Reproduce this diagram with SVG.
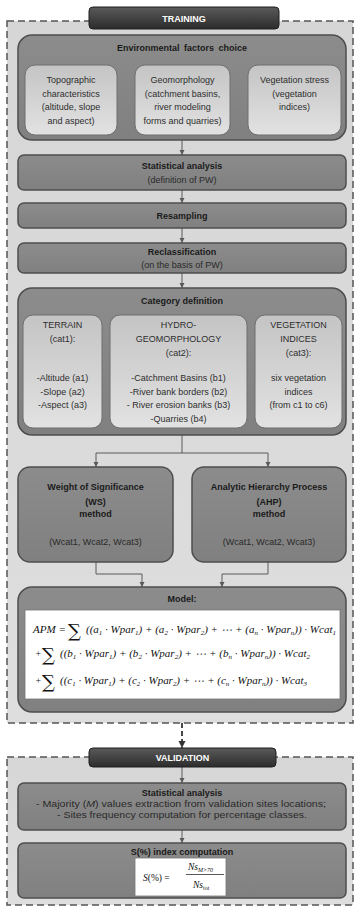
<svg xmlns="http://www.w3.org/2000/svg" width="355" height="907" viewBox="0 0 355 907">
<defs>
<linearGradient id="gHead" x1="0" y1="0" x2="0" y2="1"><stop offset="0" stop-color="#5a5a5a"/><stop offset="1" stop-color="#2c2c2c"/></linearGradient>
<linearGradient id="gMid" x1="0" y1="0" x2="0" y2="1"><stop offset="0" stop-color="#8c8c8c"/><stop offset="1" stop-color="#808080"/></linearGradient>
<linearGradient id="gSub" x1="0" y1="0" x2="0" y2="1"><stop offset="0" stop-color="#c4c4c4"/><stop offset="1" stop-color="#e2e2e2"/></linearGradient>
<linearGradient id="gBg" x1="0" y1="0" x2="0" y2="1"><stop offset="0" stop-color="#d6d6d6"/><stop offset="1" stop-color="#dedede"/></linearGradient>
<marker id="ar" markerWidth="6" markerHeight="6" refX="5" refY="3" orient="auto" markerUnits="userSpaceOnUse"><path d="M0,0.5 L5,3 L0,5.5 Z" fill="#5a5a5a"/></marker>
<marker id="arB" markerWidth="8" markerHeight="8" refX="7" refY="4" orient="auto" markerUnits="userSpaceOnUse"><path d="M0,0.5 L7,4 L0,7.5 Z" fill="#333"/></marker>
</defs>
<style>
.frame{fill:url(#gBg);stroke:#555;stroke-width:1.5;stroke-dasharray:7 4}
.head{fill:url(#gHead);stroke:#1e1e1e;stroke-width:1}
.mid{fill:url(#gMid);stroke:#4e4e4e;stroke-width:1.5}
.sub{fill:url(#gSub);stroke:#6e6e6e;stroke-width:1}
.white{fill:#fff;stroke:#777;stroke-width:0.8}
text{font-family:"Liberation Sans",Arial,sans-serif;text-anchor:middle;fill:#222}
.ht{font-size:9px;font-weight:bold;fill:#fff}
.t{font-size:9px;font-weight:bold;fill:#1a1a1a}
.s{font-size:9px;fill:#2e2e2e}
.ss{font-size:9px;fill:#2a2a2a}
.m{font-family:"Liberation Serif","Times New Roman",serif;font-style:italic;font-size:9.5px;text-anchor:start;fill:#111}
.sum{font-family:"DejaVu Serif","Liberation Serif",serif;font-size:18px;text-anchor:start;fill:#111}
.c{fill:none;stroke:#5a5a5a;stroke-width:1}
</style>

<g id="training-frame"><rect class="frame" x="7" y="21" width="346" height="702"/></g>
<g id="validation-frame"><rect class="frame" x="7" y="757" width="346" height="148"/></g>

<g id="connectors">
<line class="c" x1="182" y1="140" x2="182" y2="155" marker-end="url(#ar)"/>
<line class="c" x1="182" y1="190" x2="182" y2="203" marker-end="url(#ar)"/>
<line class="c" x1="182" y1="228" x2="182" y2="243" marker-end="url(#ar)"/>
<line class="c" x1="182" y1="273" x2="182" y2="288" marker-end="url(#ar)"/>
<path class="c" d="M182,435 V453"/>
<path class="c" d="M96,453 H268"/>
<line class="c" x1="96" y1="453" x2="96" y2="467" marker-end="url(#ar)"/>
<line class="c" x1="268" y1="453" x2="268" y2="467" marker-end="url(#ar)"/>
<path class="c" d="M96,562 V574 H142 V587" marker-end="url(#ar)"/>
<path class="c" d="M268,562 V574 H222 V587" marker-end="url(#ar)"/>
<line x1="182" y1="723" x2="182" y2="748" stroke="#333" stroke-width="1.8" stroke-dasharray="5 3" marker-end="url(#arB)"/>
<line class="c" x1="182" y1="767" x2="182" y2="783" marker-end="url(#ar)"/>
<line class="c" x1="182" y1="830" x2="182" y2="843" marker-end="url(#ar)"/>
</g>

<g id="training-header"><rect class="head" x="89" y="7" width="190" height="22" rx="4"/><text class="ht" x="184" y="21.5">TRAINING</text></g>

<g id="env-factors">
<rect class="mid" x="18" y="35" width="328" height="105" rx="14"/>
<text class="t" x="182" y="51" word-spacing="2">Environmental factors choice</text>
</g>
<g id="topographic">
<rect class="sub" x="25" y="65" width="92" height="70" rx="10"/>
<text class="s" x="71" y="83">Topographic</text>
<text class="s" x="71" y="96.5">characteristics</text>
<text class="s" x="71" y="110">(altitude, slope</text>
<text class="s" x="71" y="123.5">and aspect)</text>
</g>
<g id="geomorphology">
<rect class="sub" x="135" y="65" width="95" height="70" rx="10"/>
<text class="s" x="182.5" y="83">Geomorphology</text>
<text class="s" x="182.5" y="96.5">(catchment basins,</text>
<text class="s" x="182.5" y="110">river modeling</text>
<text class="s" x="182.5" y="123.5">forms and quarries)</text>
</g>
<g id="vegetation-stress">
<rect class="sub" x="248" y="65" width="93" height="70" rx="10"/>
<text class="s" x="294.5" y="83">Vegetation stress</text>
<text class="s" x="294.5" y="96.5">(vegetation</text>
<text class="s" x="294.5" y="110">indices)</text>
</g>

<g id="statistical-analysis">
<rect class="mid" x="18" y="155" width="328" height="35" rx="6"/>
<text class="t" x="182" y="169">Statistical analysis</text>
<text class="ss" x="182" y="183">(definition of PW)</text>
</g>
<g id="resampling">
<rect class="mid" x="18" y="203" width="328" height="25" rx="6"/>
<text class="t" x="182" y="219">Resampling</text>
</g>
<g id="reclassification">
<rect class="mid" x="18" y="243" width="328" height="30" rx="6"/>
<text class="t" x="182" y="255">Reclassification</text>
<text class="ss" x="182" y="268">(on the basis of PW)</text>
</g>

<g id="category-definition">
<rect class="mid" x="18" y="288" width="328" height="147" rx="14"/>
<text class="t" x="182" y="304">Category definition</text>
</g>
<g id="terrain">
<rect class="sub" x="23" y="315" width="79" height="113" rx="10"/>
<text class="s" x="62.5" y="328">TERRAIN</text>
<text class="s" x="62.5" y="342">(cat1):</text>
<text class="s" x="62.5" y="381">-Altitude (a1)</text>
<text class="s" x="62.5" y="394.5">-Slope (a2)</text>
<text class="s" x="62.5" y="408">-Aspect (a3)</text>
</g>
<g id="hydro-geomorphology">
<rect class="sub" x="110" y="315" width="137" height="113" rx="10"/>
<text class="s" x="178.5" y="328">HYDRO-</text>
<text class="s" x="178.5" y="342">GEOMORPHOLOGY</text>
<text class="s" x="178.5" y="356">(cat2):</text>
<text class="s" x="178.5" y="381">-Catchment Basins (b1)</text>
<text class="s" x="178.5" y="394.5">-River bank borders (b2)</text>
<text class="s" x="178.5" y="408">- River erosion banks (b3)</text>
<text class="s" x="178.5" y="422">-Quarries (b4)</text>
</g>
<g id="vegetation-indices">
<rect class="sub" x="255" y="315" width="87" height="113" rx="10"/>
<text class="s" x="298.5" y="328">VEGETATION</text>
<text class="s" x="298.5" y="342">INDICES</text>
<text class="s" x="298.5" y="356">(cat3):</text>
<text class="s" x="298.5" y="381">six vegetation</text>
<text class="s" x="298.5" y="394.5">indices</text>
<text class="s" x="298.5" y="408">(from c1 to c6)</text>
</g>

<g id="ws-method">
<rect class="mid" x="18" y="467" width="155" height="95" rx="12"/>
<text class="t" x="95.5" y="490">Weight of Significance</text>
<text class="t" x="95.5" y="505">(WS)</text>
<text class="t" x="95.5" y="517">method</text>
<text class="ss" x="95.5" y="545">(Wcat1, Wcat2, Wcat3)</text>
</g>
<g id="ahp-method">
<rect class="mid" x="192" y="467" width="154" height="95" rx="12"/>
<text class="t" x="269" y="490">Analytic Hierarchy Process</text>
<text class="t" x="269" y="505">(AHP)</text>
<text class="t" x="269" y="517">method</text>
<text class="ss" x="269" y="545">(Wcat1, Wcat2, Wcat3)</text>
</g>

<g id="model">
<rect class="mid" x="18" y="587" width="328" height="125" rx="14"/>
<text class="t" x="182" y="602">Model:</text>
<rect class="white" x="25" y="610" width="315" height="89"/>
<text class="m" x="33" y="633" textLength="33" lengthAdjust="spacingAndGlyphs">APM =</text>
<text class="sum" x="68" y="637">∑</text>
<text class="m" x="86" y="633" textLength="250" lengthAdjust="spacingAndGlyphs">((a<tspan font-size="6" dy="2">1</tspan><tspan dy="-2"> · Wpar</tspan><tspan font-size="6" dy="2">1</tspan><tspan dy="-2">) + (a</tspan><tspan font-size="6" dy="2">2</tspan><tspan dy="-2"> · Wpar</tspan><tspan font-size="6" dy="2">2</tspan><tspan dy="-2">) + ⋯ + (a</tspan><tspan font-size="6" dy="2">n</tspan><tspan dy="-2"> · Wpar</tspan><tspan font-size="6" dy="2">n</tspan><tspan dy="-2">)) · Wcat</tspan><tspan font-size="6" dy="2">1</tspan></text>
<text class="m" x="35" y="657">+</text>
<text class="sum" x="42" y="661">∑</text>
<text class="m" x="60" y="657" textLength="250" lengthAdjust="spacingAndGlyphs">((b<tspan font-size="6" dy="2">1</tspan><tspan dy="-2"> · Wpar</tspan><tspan font-size="6" dy="2">1</tspan><tspan dy="-2">) + (b</tspan><tspan font-size="6" dy="2">2</tspan><tspan dy="-2"> · Wpar</tspan><tspan font-size="6" dy="2">2</tspan><tspan dy="-2">) + ⋯ + (b</tspan><tspan font-size="6" dy="2">n</tspan><tspan dy="-2"> · Wpar</tspan><tspan font-size="6" dy="2">n</tspan><tspan dy="-2">)) · Wcat</tspan><tspan font-size="6" dy="2">2</tspan></text>
<text class="m" x="35" y="684">+</text>
<text class="sum" x="42" y="688">∑</text>
<text class="m" x="60" y="684" textLength="247" lengthAdjust="spacingAndGlyphs">((c<tspan font-size="6" dy="2">1</tspan><tspan dy="-2"> · Wpar</tspan><tspan font-size="6" dy="2">1</tspan><tspan dy="-2">) + (c</tspan><tspan font-size="6" dy="2">2</tspan><tspan dy="-2"> · Wpar</tspan><tspan font-size="6" dy="2">2</tspan><tspan dy="-2">) + ⋯ + (c</tspan><tspan font-size="6" dy="2">n</tspan><tspan dy="-2"> · Wpar</tspan><tspan font-size="6" dy="2">n</tspan><tspan dy="-2">)) · Wcat</tspan><tspan font-size="6" dy="2">3</tspan></text>
</g>

<g id="validation-header"><rect class="head" x="89" y="748" width="187" height="19" rx="4"/><text class="ht" x="182.5" y="761">VALIDATION</text></g>

<g id="validation-statistics">
<rect class="mid" x="18" y="783" width="328" height="47" rx="6"/>
<text class="t" x="182" y="796">Statistical analysis</text>
<text class="ss" x="181" y="807" textLength="290" lengthAdjust="spacingAndGlyphs">- Majority (<tspan font-style="italic">M</tspan>) values extraction from validation sites locations;</text>
<text class="ss" x="182" y="818" textLength="250" lengthAdjust="spacingAndGlyphs">- Sites frequency computation for percentage classes.</text>
</g>
<g id="s-index">
<rect class="mid" x="18" y="843" width="328" height="55" rx="6"/>
<text class="t" x="182" y="855">S(%) index computation</text>
<rect class="white" x="135" y="858" width="91" height="38"/>
<text class="m" x="143" y="881" font-size="12">S<tspan font-style="normal">(%) =</tspan></text>
<text class="m" x="188" y="870" font-size="9.5">Ns<tspan font-size="6" dy="2">M&gt;70</tspan></text>
<line x1="186" y1="874.5" x2="224" y2="874.5" stroke="#111" stroke-width="0.7"/>
<text class="m" x="193" y="888" font-size="9.5">Ns<tspan font-size="6" dy="2" font-style="normal">tot</tspan></text>
</g>
</svg>
